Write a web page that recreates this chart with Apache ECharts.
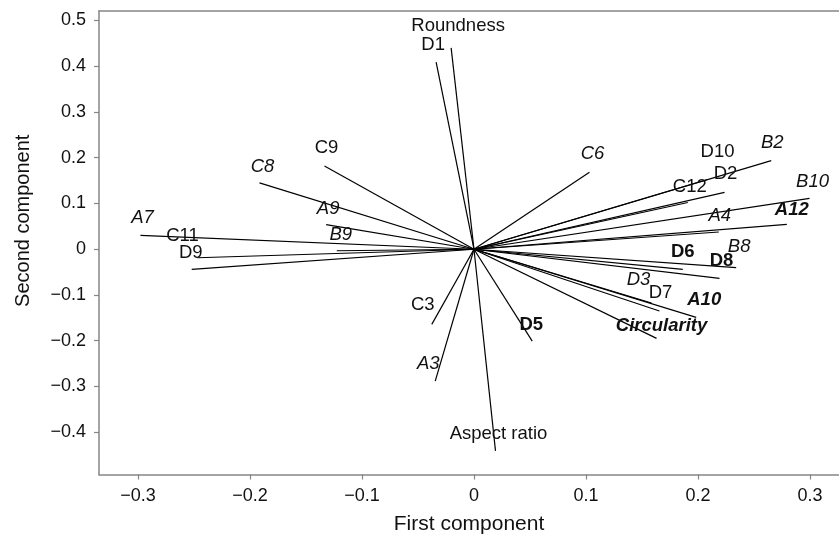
<!DOCTYPE html>
<html>
<head>
<meta charset="utf-8">
<script src="https://cdn.jsdelivr.net/npm/echarts@6/dist/echarts.min.js"></script>
<style>
html,body{margin:0;padding:0;background:#fff;}
#chart{width:839px;height:540px;}
</style>
</head>
<body>
<div id="chart"></div>
<script>
// ---- data ----
const names = ["Roundness","D1","C9","C8","A9","B9","A7","C11","D9","C6","B2","D10","D2","C12","B10","A12","A4","D6","B8","D8","D3","D7","A10","Circularity","D5","C3","A3","Aspect ratio"];
const firstComp = [-0.0204,-0.0338,-0.1335,-0.1915,-0.132,-0.1225,-0.2978,-0.2469,-0.252,0.1031,0.2654,0.2085,0.2237,0.1909,0.2996,0.2793,0.2186,0.1864,0.2341,0.2192,0.1585,0.1656,0.1984,0.163,0.052,-0.0377,-0.0346,0.0192];
const secondComp = [0.440,0.409,0.182,0.145,0.0536,-0.0033,0.0304,-0.0186,-0.044,0.168,0.1935,0.1524,0.1244,0.1021,0.1113,0.0545,0.0376,-0.044,-0.040,-0.0636,-0.1176,-0.1351,-0.1489,-0.1948,-0.2007,-0.1642,-0.2882,-0.4406];
const xTicks = [-0.3,-0.2,-0.1,0,0.1,0.2,0.3];
const yTicks = [-0.4,-0.3,-0.2,-0.1,0,0.1,0.2,0.3,0.4,0.5];

// ---- label styling (not data) ----
const italicNames = ["C8","A9","B9","A7","C6","B2","B10","A4","B8","D3","A3"];
const boldNames = ["D6","D8","D5"];
const boldItalicNames = ["A12","A10","Circularity"];
const labelOffset = [[7,-22],[-3,-17],[2,-18],[3,-16],[2,-16],[4,-16],[2,-17],[-15,-22],[-1,-16],[3,-18],[1,-18],[10,-28],[1,-18],[2,-16],[3,-16],[5,-14],[1,-16],[0,-17],[3,-21],[2,-17],[-13,-23],[1,-18],[8,-17],[5,-12],[-1,-16],[-9,-19],[-7,-17],[3,-17]];

const FONT = '"Liberation Sans", Arial, Helvetica, sans-serif';
const AXIS_COLOR = '#868686';
const TEXT_COLOR = '#111';

function fmt(v){
  if (Math.abs(v) < 1e-9) return '0';
  const s = String(Math.round(Math.abs(v)*10)/10);
  return v < 0 ? '\u2212' + s : s;
}

const chart = echarts.init(document.getElementById('chart'), null, {renderer:'canvas'});
const seriesData = names.map((n,i)=>[firstComp[i], secondComp[i], i]);

const option = {
  animation:false,
  backgroundColor:'#fff',
  grid:{left:99, right:0, top:11, bottom:65.5, containLabel:false},
  xAxis:[{
    type:'value', min:-0.3348, max:0.3259, position:'bottom',
    name:'First component', nameLocation:'middle', nameGap:39,
    nameTextStyle:{fontFamily:FONT, fontSize:21, color:TEXT_COLOR},
    axisLine:{show:true, onZero:false, lineStyle:{color:AXIS_COLOR, width:1.5}},
    axisTick:{show:true, length:5, lineStyle:{color:AXIS_COLOR, width:1.2}, customValues:xTicks},
    axisLabel:{customValues:xTicks, formatter:fmt, fontFamily:FONT, fontSize:18, color:TEXT_COLOR, margin:13},
    splitLine:{show:false}
  },{
    type:'value', min:-0.3348, max:0.3259, position:'top',
    axisLine:{show:true, onZero:false, lineStyle:{color:AXIS_COLOR, width:1.5}},
    axisTick:{show:false}, axisLabel:{show:false}, splitLine:{show:false}
  }],
  yAxis:{
    type:'value', min:-0.4923, max:0.5206,
    name:'Second component', nameLocation:'middle', nameGap:66, nameRotate:90,
    nameTextStyle:{fontFamily:FONT, fontSize:20, color:TEXT_COLOR, padding:[0,0,0,44]},
    axisLine:{show:true, onZero:false, lineStyle:{color:AXIS_COLOR, width:1.5}},
    axisTick:{show:true, length:5, lineStyle:{color:AXIS_COLOR, width:1.2}, customValues:yTicks},
    axisLabel:{customValues:yTicks, formatter:fmt, fontFamily:FONT, fontSize:18, color:TEXT_COLOR, margin:13},
    splitLine:{show:false}
  },
  series:[{
    type:'custom',
    xAxisIndex:0, yAxisIndex:0,
    data:seriesData,
    encode:{x:0, y:1},
    clip:false,
    renderItem:function(params, api){
      const i = api.value(2);
      const o = api.coord([0,0]);
      const p = api.coord([api.value(0), api.value(1)]);
      const n = names[i];
      const off = labelOffset[i];
      let fontStyle = 'normal', fontWeight = 'normal';
      if (italicNames.indexOf(n) >= 0) fontStyle = 'italic';
      if (boldNames.indexOf(n) >= 0) fontWeight = 'bold';
      if (boldItalicNames.indexOf(n) >= 0) { fontStyle = 'italic'; fontWeight = 'bold'; }
      return {
        type:'group',
        children:[
          {type:'line', shape:{x1:o[0], y1:o[1], x2:p[0], y2:p[1]}, style:{stroke:'#000', lineWidth:1.2}},
          {type:'text', x:p[0]+off[0], y:p[1]+off[1], style:{
            text:n, fill:TEXT_COLOR, fontFamily:FONT, fontSize:18.5,
            fontStyle:fontStyle, fontWeight:fontWeight, align:'center', verticalAlign:'middle'
          }}
        ]
      };
    }
  }]
};
chart.setOption(option);
</script>
</body>
</html>
